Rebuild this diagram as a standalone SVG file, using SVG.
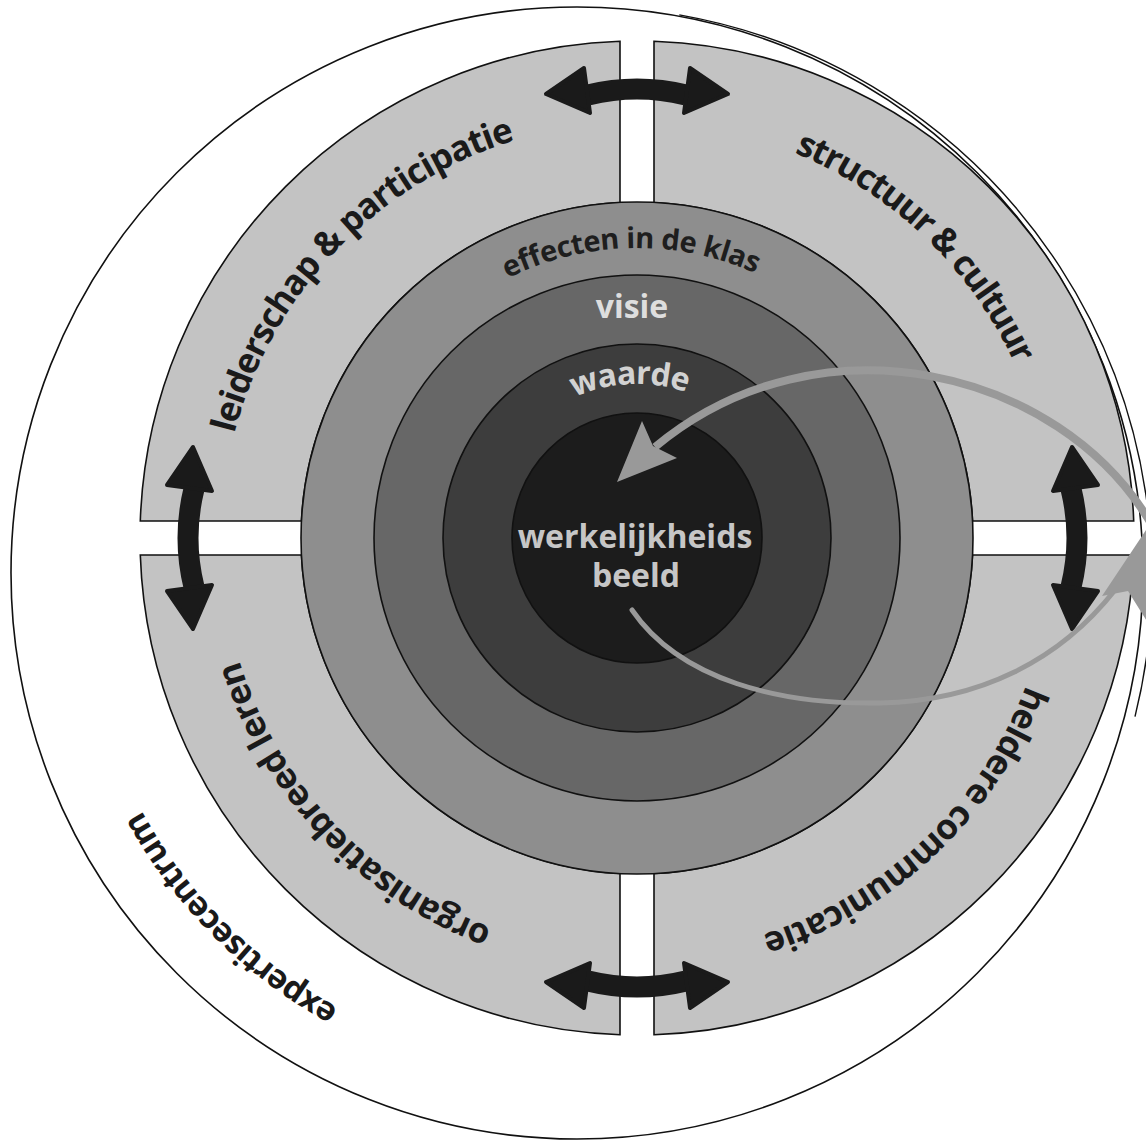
<svg xmlns="http://www.w3.org/2000/svg" width="1146" height="1144" viewBox="0 0 1146 1144">
<defs>
<style>
.ol{stroke:#111;stroke-width:1.6}
.q{fill:#c3c3c3;stroke:#111;stroke-width:1.6}
.lab{font-family:"Open Sans","Noto Sans","DejaVu Sans",sans-serif;font-weight:700}
.dk{fill:#1a1a1a;font-size:35px}
.ex{fill:#1a1a1a;font-size:33px}
.ef{fill:#1e1e1e;font-size:29px}
.lt{font-size:32px}
.blk{fill:#1a1a1a;stroke:#1a1a1a;stroke-width:4;stroke-linejoin:round}
.shaft{fill:none;stroke:#1a1a1a;stroke-width:21}
.gr{fill:none;stroke:#999999}
.grh{fill:#999999}
</style>
<path id="pLeid" d="M 234.3,433.8 A 416 416 0 0 1 515.4,140.2"/>
<path id="pStruct" d="M 794.2,152.8 A 416 416 0 0 1 1014.9,364.2"/>
<path id="pHeld" d="M 1026.1,685.1 A 416 416 0 0 1 762.1,934.7"/>
<path id="pOrg" d="M 492.0,927.9 A 416 416 0 0 1 239.4,660.3"/>
<path id="pExp" d="M 338.8,1008.0 A 496 496 0 0 1 141.5,810.4"/>
<path id="pEff" d="M 507.6,278.5 A 290 290 0 0 1 755.4,273.3"/>
<path id="pWaarde" d="M 574.4,397.3 A 154 154 0 0 1 686.6,392.2"/>
<g id="dbl">
<path class="shaft" d="M 588,95 Q 637,83 686,95"/>
<polygon class="blk" points="584,68 546,94 590,113"/>
<polygon class="blk" points="690,68 728,94 684,113"/>
</g>
</defs>
<rect x="0" y="0" width="1146" height="1144" fill="#ffffff"/>

<g id="expertisecentrum">
<circle cx="577" cy="573" r="566" fill="#ffffff" class="ol"/>
<path d="M 679.3,14.9 A 572 572 0 0 1 1135,716.6" fill="none" stroke="#111" stroke-width="1.4"/>
<text class="lab ex"><textPath href="#pExp" textLength="283.1" lengthAdjust="spacing">expertisecentrum</textPath></text>
</g>

<g id="leiderschap">
<path class="q" d="M 620,41.3 L 620,202.43 A 336 336 0 0 0 301.43,521 L 140.3,521 A 497 497 0 0 1 620,41.3 Z"/>
<text class="lab dk"><textPath href="#pLeid" textLength="424.7" lengthAdjust="spacing">leiderschap &amp; participatie</textPath></text>
</g>
<g id="structuur">
<path class="q" d="M 654,41.3 A 497 497 0 0 1 1133.7,521 L 972.57,521 A 336 336 0 0 0 654,202.43 Z"/>
<text class="lab dk"><textPath href="#pStruct" textLength="312.9" lengthAdjust="spacing">structuur &amp; cultuur</textPath></text>
</g>
<g id="communicatie">
<path class="q" d="M 1133.7,555 A 497 497 0 0 1 654,1034.7 L 654,873.57 A 336 336 0 0 0 972.57,555 Z"/>
<text class="lab dk"><textPath href="#pHeld" textLength="376.1" lengthAdjust="spacing">heldere communicatie</textPath></text>
</g>
<g id="organisatie">
<path class="q" d="M 620,1034.7 A 497 497 0 0 1 140.3,555 L 301.43,555 A 336 336 0 0 0 620,873.57 Z"/>
<text class="lab dk"><textPath href="#pOrg" textLength="381.2" lengthAdjust="spacing">organisatiebreed leren</textPath></text>
</g>

<g id="effecten">
<circle cx="637" cy="538" r="336" fill="#8e8e8e" class="ol"/>
<text class="lab ef"><textPath href="#pEff" textLength="256.1" lengthAdjust="spacing">effecten in de klas</textPath></text>
</g>
<g id="visie">
<circle cx="637" cy="538" r="263" fill="#676767" class="ol"/>
<text x="632" y="318" text-anchor="middle" class="lab lt" fill="#dedede">visie</text>
</g>
<g id="waarde">
<circle cx="637" cy="538" r="194" fill="#3d3d3d" class="ol"/>
<text class="lab lt" fill="#d2d2d2"><textPath href="#pWaarde" textLength="115" lengthAdjust="spacing">waarde</textPath></text>
</g>
<g id="werkelijkheidsbeeld">
<circle cx="637" cy="538" r="125" fill="#1c1c1c" class="ol"/>
<text x="635" y="548" text-anchor="middle" class="lab lt" fill="#c6c6c6">werkelijkheids</text>
<text x="636" y="587" text-anchor="middle" class="lab lt" fill="#c6c6c6">beeld</text>
</g>

<g id="connectors">
<use href="#dbl"/>
<use href="#dbl" transform="translate(-9,0) rotate(90 637 538)"/>
<use href="#dbl" transform="rotate(180 637 538)"/>
<use href="#dbl" transform="rotate(-90 637 538)"/>
<path class="gr" stroke-width="8" d="M 1150,522 C 1060,370 820,310 655,447"/>
<polygon class="grh" points="642,421 617,482 677,458 653,446"/>
<path class="gr" stroke-width="5" stroke-linecap="round" d="M 632,610 C 680,680 780,705 880,703 C 980,701 1060,660 1115,590"/>
<polygon class="grh" points="1102,596 1162,506 1160,642 1128,591"/>
</g>
</svg>
